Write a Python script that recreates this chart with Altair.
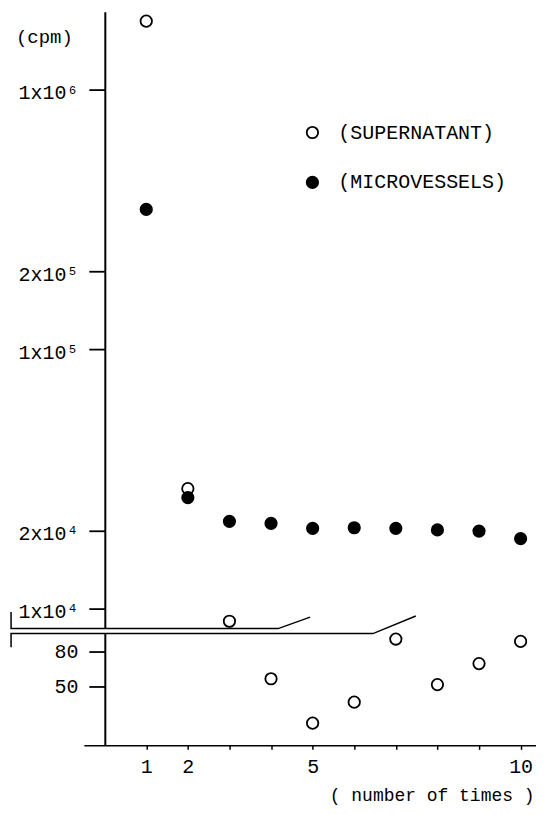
import altair as alt
import pandas as pd

# ---- data ----
times = list(range(1, 11))
supernatant_cpm = [1840000, 29000, 8940, 57, 19, 37, 91, 52, 70, 89]
microvessels_cpm = [346000, 26800, 21700, 21300, 20400, 20500, 20400, 20100, 19900, 18600]
series_names = ["(SUPERNATANT)", "(MICROVESSELS)"]

upper_tick_values = [1000000, 200000, 100000, 20000, 10000]
upper_tick_labels = ["1x10⁶", "2x10⁵", "1x10⁵", "2x10⁴", "1x10⁴"]
lower_tick_values = [50, 80]
x_label_values = [1, 2, 5, 10]

upper_domain = [8375, 2000000]
lower_domain = [0, 95.7]
x_domain = [-0.5, 10.37]
break_threshold = 1000  # counts below this sit on the lower (linear) part of the axis

# axis-break markers, in data units of each panel
upper_break_x = [-2.25, -2.25, 4.17, 4.94]
upper_break_y = [9700, 8375, 8375, 9270]
lower_break_x = [-2.25, -2.25, 6.45, 7.48]
lower_break_y = [84, 95.7, 95.7, 110.7]

FONT = "Courier New, Nimbus Mono PS, FreeMono, Liberation Mono, monospace"

rows = []
for t, v in zip(times, supernatant_cpm):
    rows.append({"time": t, "cpm": v, "series": series_names[0]})
for t, v in zip(times, microvessels_cpm):
    rows.append({"time": t, "cpm": v, "series": series_names[1]})
df = pd.DataFrame(rows)

upper_break = pd.DataFrame({"time": upper_break_x, "cpm": upper_break_y, "i": range(4)})
lower_break = pd.DataFrame({"time": lower_break_x, "cpm": lower_break_y, "i": range(4)})

upper_label_expr = " : ".join(
    f"datum.value == {v} ? '{l}'" for v, l in zip(upper_tick_values, upper_tick_labels)
) + " : ''"
x_label_expr = "indexof([" + ",".join(str(v) for v in x_label_values) + "], datum.value) >= 0 ? datum.label : ''"

W = 453
Y_OFFSET = -21
PT_SIZE = 130

x_scale = alt.Scale(domain=x_domain, nice=False, zero=False)

upper_y_axis = alt.Axis(
    values=upper_tick_values, labelExpr=upper_label_expr, grid=False, offset=Y_OFFSET,
    tickSize=16, tickWidth=1.8, domainWidth=2, labelPadding=11, labelOffset=3,
    labelFont=FONT, labelFontSize=20, title="(cpm)", titleAngle=0, titleAlign="center",
    titleBaseline="middle", titleX=-61, titleY=25, titleFont=FONT, titleFontSize=19,
    titleFontWeight="normal",
)
lower_y_axis = alt.Axis(
    values=lower_tick_values, grid=False, offset=Y_OFFSET,
    tickSize=16, tickWidth=1.8, domainWidth=2, labelPadding=11,
    labelFont=FONT, labelFontSize=20, title=None,
)
x_axis = alt.Axis(
    values=times, labelExpr=x_label_expr, grid=False, tickSize=4, tickWidth=1.5,
    domainWidth=1.5, labelPadding=7, labelFont=FONT, labelFontSize=20,
    title="( number of times )", titleX=W - 2, titleY=50, titleAlign="right",
    titleBaseline="middle", titleFont=FONT, titleFontSize=18, titleFontWeight="normal",
)

y_up = alt.Y("cpm:Q", scale=alt.Scale(type="log", domain=upper_domain, nice=False), axis=upper_y_axis)
y_low = alt.Y("cpm:Q", scale=alt.Scale(domain=lower_domain, nice=False, zero=False), axis=lower_y_axis)

fill_scale = alt.Scale(domain=series_names, range=["white", "black"])

upper_points = alt.Chart(df).transform_filter(f"datum.cpm >= {break_threshold}").mark_circle(
    size=PT_SIZE, stroke="black", strokeWidth=1.8, opacity=1, fillOpacity=1
).encode(
    x=alt.X("time:Q", scale=x_scale, axis=None),
    y=y_up,
    fill=alt.Fill("series:N", scale=fill_scale, sort=series_names, legend=alt.Legend(
        title=None, orient="none", legendX=219, legendY=111, padding=0,
        symbolType="circle", symbolSize=PT_SIZE, symbolStrokeColor="black", symbolStrokeWidth=1.8,
        labelFont=FONT, labelFontSize=20, labelColor="black", labelOffset=16, rowPadding=30,
        labelLimit=0,
    )),
)
upper_line = alt.Chart(upper_break).mark_line(color="black", strokeWidth=1.5, clip=False).encode(
    x=alt.X("time:Q", scale=x_scale, axis=None), y=y_up, order="i:Q"
)
upper = alt.layer(upper_points, upper_line).properties(width=W, height=618)

lower_points = alt.Chart(df).transform_filter(f"datum.cpm < {break_threshold}").mark_circle(
    size=PT_SIZE, stroke="black", strokeWidth=1.8, opacity=1, fillOpacity=1
).encode(
    x=alt.X("time:Q", scale=x_scale, axis=x_axis),
    y=y_low,
    fill=alt.Fill("series:N", scale=fill_scale, legend=None),
)
lower_line = alt.Chart(lower_break).mark_line(color="black", strokeWidth=1.5, clip=False).encode(
    x=alt.X("time:Q", scale=x_scale, axis=x_axis), y=y_low, order="i:Q"
)
lower = alt.layer(lower_points, lower_line).properties(width=W, height=112)

chart = alt.vconcat(upper, lower, spacing=5, bounds="flush").resolve_scale(
    x="independent", y="independent", fill="independent"
).resolve_legend(fill="independent").properties(
    padding={"left": 0, "top": 3, "right": 0, "bottom": 2}
).configure_view(stroke=None).configure_axis(
    labelColor="black", domainColor="black", tickColor="black", titleColor="black"
)

chart.save("out.html", embed_options={"renderer": "svg", "actions": False})
